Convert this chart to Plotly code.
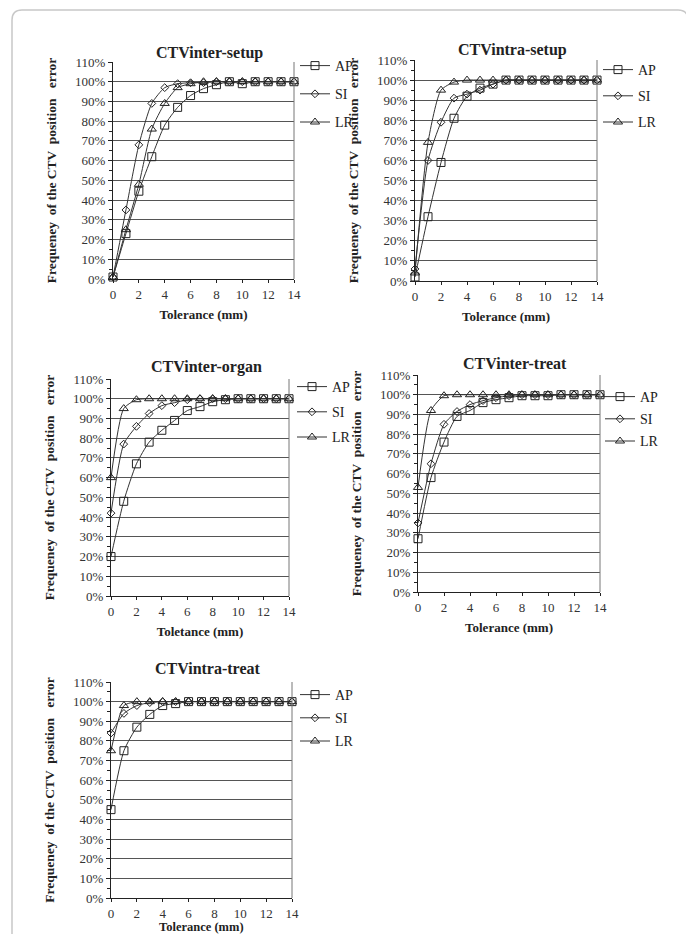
import plotly.graph_objects as go

# page is 694x942; browser body margin is 8px, so the figure is 16px smaller
PAGE_W, PAGE_H = 694, 942
OFF = 8
W, H = PAGE_W - 2 * OFF, PAGE_H - 2 * OFF

tolerance = list(range(0, 15))

# CTVinter-setup
inter_setup_AP = [1, 23, 44.5, 62, 78, 87, 93, 96.5, 98.5, 100, 99, 100, 100, 100, 100]
inter_setup_SI = [1, 35, 68, 89, 97, 99, 99.5, 99.5, 100, 100, 100, 100, 100, 100, 100]
inter_setup_LR = [1, 25, 48, 76, 89, 97, 99, 100, 100, 100, 100, 100, 100, 100, 100]

# CTVintra-setup
intra_setup_AP = [2, 32, 59, 81, 92, 96, 98, 100, 100, 100, 100, 100, 100, 100, 100]
intra_setup_SI = [6, 60, 79, 91, 93, 95, 98, 100, 100, 100, 100, 100, 100, 100, 100]
intra_setup_LR = [4, 69, 95, 99, 100, 100, 100, 100, 100, 100, 100, 100, 100, 100, 100]

# CTVinter-organ
inter_organ_AP = [20, 48, 67, 78, 84, 89, 94, 96, 98.5, 99.5, 100, 100, 100, 100, 100]
inter_organ_SI = [42, 77, 86, 92.5, 96.5, 98, 99.5, 100, 100, 100, 100, 100, 100, 100, 100]
inter_organ_LR = [60, 95, 99.5, 100, 100, 100, 100, 100, 100, 100, 100, 100, 100, 100, 100]

# CTVinter-treat
inter_treat_AP = [27, 58, 76, 89, 92, 96, 97.5, 98.5, 99.5, 99.5, 99.5, 100, 100, 100, 100]
inter_treat_SI = [35, 65, 85, 91.5, 95, 97, 98.5, 99.5, 100, 100, 100, 100, 100, 100, 100]
inter_treat_LR = [53, 92, 99.5, 100, 100, 100, 100, 100, 100, 100, 100, 100, 100, 100, 100]

# CTVintra-treat
intra_treat_AP = [45, 75, 87, 93.5, 98, 99, 100, 100, 100, 100, 100, 100, 100, 100, 100]
intra_treat_SI = [84, 94, 98, 99.5, 100, 100, 100, 100, 100, 100, 100, 100, 100, 100, 100]
intra_treat_LR = [75, 98, 100, 100, 100, 100, 100, 100, 100, 100, 100, 100, 100, 100, 100]

panel_titles = ["CTVinter-setup", "CTVintra-setup", "CTVinter-organ", "CTVinter-treat", "CTVintra-treat"]
x_titles = ["Tolerance (mm)", "Tolerance (mm)", "Toletance (mm)", "Tolerance (mm)", "Tolerance (mm)"]
y_title = "Frequeney  of the CTV  position   error"
series_names = ["AP", "SI", "LR"]
panel_data = [
    [inter_setup_AP, inter_setup_SI, inter_setup_LR],
    [intra_setup_AP, intra_setup_SI, intra_setup_LR],
    [inter_organ_AP, inter_organ_SI, inter_organ_LR],
    [inter_treat_AP, inter_treat_SI, inter_treat_LR],
    [intra_treat_AP, intra_treat_SI, intra_treat_LR],
]
y_tickvals = [i / 10 for i in range(0, 12)]
x_tickvals = list(range(0, 15, 2))

# page-pixel boxes of plot areas
boxes = [
    (113, 294, 62, 279),
    (415, 597, 60, 281),
    (111, 289, 379, 596),
    (418, 600, 375, 592),
    (111, 292, 682, 898),
]
title_y = [53, 50, 367, 363, 668]
# legend: left x, first item centre y, spacing
legend_pos = [(295, 65, 29), (598, 69, 27), (292, 386, 26), (600, 396, 23), (295, 694, 24)]

symbols = ["square-open", "diamond-open", "triangle-up-open"]
msizes = [8, 6, 8]
FONT = "Liberation Serif"


def px_x(p):
    return (p - OFF) / W


def px_y(p):
    return 1 - (p - OFF) / H


fig = go.Figure()
layout = dict(
    width=W, height=H, margin=dict(l=0, r=0, t=0, b=0, autoexpand=False),
    paper_bgcolor="white", plot_bgcolor="white",
    font=dict(family=FONT, color="#222", size=12),
    showlegend=True, annotations=[], shapes=[],
)

xtitle_font = dict(family=FONT, size=13, color="#222", weight="bold")

for i in range(5):
    k = "" if i == 0 else str(i + 1)
    xa, ya = "x" + k, "y" + k
    lg = "legend" + k
    for j, name in enumerate(series_names):
        fig.add_trace(go.Scatter(
            x=tolerance, y=[v / 100 for v in panel_data[i][j]],
            mode="lines+markers", name=name,
            line=dict(color="#333", width=1, shape="spline", smoothing=0.6),
            marker=dict(symbol=symbols[j], size=msizes[j], color="#222",
                        line=dict(width=1, color="#222")),
            xaxis=xa, yaxis=ya, legend=lg, legendgroup=f"{i}{name}",
            cliponaxis=False,
        ))
    x0, x1, y0, y1 = boxes[i]
    last = (i == 4)
    layout["xaxis" + k] = dict(
        domain=[px_x(x0), px_x(x1)], range=[0, 14], anchor=ya, automargin=False,
        tickvals=x_tickvals, ticks="outside", ticklen=3, tickcolor="#222",
        showline=True, linecolor="#222", linewidth=1, showgrid=False, zeroline=False,
        tickfont=dict(family=FONT, size=13, color="#333"),
        title=dict(text="" if last else x_titles[i], font=xtitle_font, standoff=9),
    )
    if last:
        # bottom panel: its axis title sits at the very bottom edge of the page
        layout["annotations"].append(dict(
            text=x_titles[i], xref="paper", yref="paper",
            x=px_x((x0 + x1) / 2), y=px_y(927), xanchor="center", yanchor="middle",
            showarrow=False, font=dict(family=FONT, size=12.5, color="#222", weight="bold"),
        ))
    layout["yaxis" + k] = dict(
        domain=[px_y(y1), px_y(y0)], range=[0, 1.1], anchor=xa, automargin=False,
        tickvals=y_tickvals, tickformat=".0%", ticks="outside", ticklen=4, tickcolor="#222",
        minor=dict(dtick=0.05, tick0=0, ticks="outside", ticklen=3, tickcolor="#222", showgrid=False),
        showline=True, linecolor="#222", linewidth=1, mirror=False,
        showgrid=True, gridcolor="#555", gridwidth=1, zeroline=False,
        tickfont=dict(family=FONT, size=13, color="#333"),
        title=dict(text=y_title, font=dict(family=FONT, size=13.5, color="#222", weight="bold")),
    )
    layout["shapes"].append(dict(type="line", xref=xa + " domain", yref=ya + " domain",
                                 x0=1, x1=1, y0=0, y1=1, line=dict(color="#777", width=1)))
    layout["annotations"].append(dict(
        text=panel_titles[i], xref="paper", yref="paper",
        x=px_x((x0 + x1) / 2 + 6), y=px_y(title_y[i]), xanchor="center", yanchor="middle",
        showarrow=False, font=dict(family=FONT, size=16, color="#222", weight="bold"),
    ))
    lx, lcy, sp = legend_pos[i]
    gap = max(sp - 22, 0)
    layout[lg] = dict(
        x=px_x(lx), y=px_y(lcy - 15), xanchor="left", yanchor="top",
        bgcolor="rgba(0,0,0,0)", font=dict(family=FONT, size=14, color="#222"),
        tracegroupgap=gap, itemwidth=30,
    )

# outer rounded frame
r = 10
fx0, fx1, fy0, fy1 = px_x(12), px_x(688), px_y(10), -0.05
rx, ry = r / W, r / H
path = (f"M {fx0},{fy1} L {fx0},{fy0 - ry} Q {fx0},{fy0} {fx0 + rx},{fy0} "
        f"L {fx1 - rx},{fy0} Q {fx1},{fy0} {fx1},{fy0 - ry} L {fx1},{fy1}")
layout["shapes"].append(dict(type="path", xref="paper", yref="paper", path=path,
                             line=dict(color="#c8c8c8", width=1.5)))

fig.update_layout(**layout)
fig.write_html("out.html")
